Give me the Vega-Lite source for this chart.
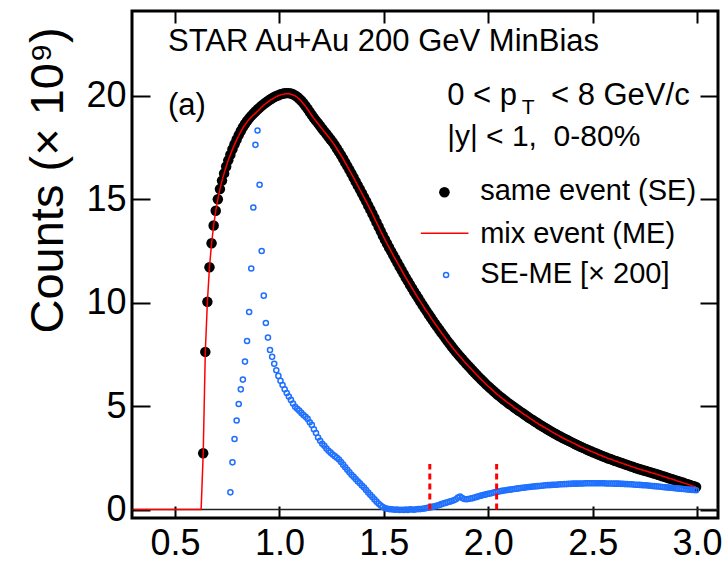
{
"$schema":"https://vega.github.io/schema/vega-lite/v6.json",
"width":586,"height":507,
"autosize":{"type":"none"},
"padding":{"left":132,"top":11,"right":9,"bottom":44},
"config":{"view":{"stroke":"black","strokeWidth":3},"font":"Liberation Sans"},
"datasets":{
"h":[
{"x":0.305,"se":null,"me":0,"d":null},{"x":0.315,"se":null,"me":0,"d":null},{"x":0.325,"se":null,"me":0,"d":null},{"x":0.335,"se":null,"me":0,"d":null},{"x":0.345,"se":null,"me":0,"d":null},{"x":0.355,"se":null,"me":0,"d":null},{"x":0.365,"se":null,"me":0,"d":null},{"x":0.375,"se":null,"me":0,"d":null},{"x":0.385,"se":null,"me":0,"d":null},{"x":0.395,"se":null,"me":0,"d":null},
{"x":0.405,"se":null,"me":0,"d":null},{"x":0.415,"se":null,"me":0,"d":null},{"x":0.425,"se":null,"me":0,"d":null},{"x":0.435,"se":null,"me":0,"d":null},{"x":0.445,"se":null,"me":0,"d":null},{"x":0.455,"se":null,"me":0,"d":null},{"x":0.465,"se":null,"me":0,"d":null},{"x":0.475,"se":null,"me":0,"d":null},{"x":0.485,"se":null,"me":0,"d":null},{"x":0.495,"se":null,"me":0,"d":null},
{"x":0.505,"se":null,"me":0,"d":null},{"x":0.515,"se":null,"me":0,"d":null},{"x":0.525,"se":null,"me":0,"d":null},{"x":0.535,"se":null,"me":0,"d":null},{"x":0.545,"se":null,"me":0,"d":null},{"x":0.555,"se":null,"me":0,"d":null},{"x":0.565,"se":null,"me":0,"d":null},{"x":0.575,"se":null,"me":0,"d":null},{"x":0.585,"se":null,"me":0,"d":null},{"x":0.595,"se":null,"me":0,"d":null},
{"x":0.605,"se":null,"me":0,"d":null},{"x":0.615,"se":null,"me":0,"d":null},{"x":0.625,"se":null,"me":0,"d":null},
{"x":0.635,"se":2.72,"me":2.72,"d":null},{"x":0.645,"se":7.62,"me":7.62,"d":null},{"x":0.655,"se":10.04,"me":10.04,"d":null},{"x":0.665,"se":11.71,"me":11.71,"d":null},{"x":0.675,"se":12.87,"me":12.87,"d":null},{"x":0.685,"se":13.73,"me":13.73,"d":null},{"x":0.695,"se":14.44,"me":14.44,"d":null},
{"x":0.705,"se":15.0,"me":15.0,"d":null},{"x":0.715,"se":15.49,"me":15.49,"d":null},{"x":0.725,"se":15.9,"me":15.9,"d":null},{"x":0.735,"se":16.25,"me":16.25,"d":null},{"x":0.745,"se":16.58,"me":16.58,"d":null},{"x":0.755,"se":16.88,"me":16.88,"d":null},
{"x":0.765,"se":17.15,"me":17.15,"d":0.83},{"x":0.775,"se":17.42,"me":17.41,"d":2.28},{"x":0.785,"se":17.66,"me":17.64,"d":3.41},{"x":0.795,"se":17.89,"me":17.87,"d":4.3},
{"x":0.805,"se":18.1,"me":18.07,"d":5.1},{"x":0.815,"se":18.3,"me":18.27,"d":5.81},{"x":0.825,"se":18.48,"me":18.45,"d":6.28},{"x":0.835,"se":18.64,"me":18.6,"d":7.15},{"x":0.845,"se":18.78,"me":18.74,"d":8.15},{"x":0.855,"se":18.91,"me":18.86,"d":9.55},{"x":0.865,"se":19.03,"me":18.97,"d":11.65},{"x":0.875,"se":19.14,"me":19.07,"d":14.6},{"x":0.885,"se":19.24,"me":19.15,"d":17.63},{"x":0.895,"se":19.34,"me":19.25,"d":18.32},
{"x":0.905,"se":19.43,"me":19.35,"d":15.7},{"x":0.915,"se":19.52,"me":19.46,"d":12.5},{"x":0.925,"se":19.6,"me":19.55,"d":10.34},{"x":0.935,"se":19.68,"me":19.63,"d":9.02},{"x":0.945,"se":19.75,"me":19.71,"d":8.31},{"x":0.955,"se":19.82,"me":19.78,"d":7.71},{"x":0.965,"se":19.88,"me":19.84,"d":7.38},{"x":0.975,"se":19.94,"me":19.9,"d":7.05},{"x":0.985,"se":19.99,"me":19.96,"d":6.73},{"x":0.995,"se":20.03,"me":20.0,"d":6.46},
{"x":1.005,"se":20.07,"me":20.04,"d":6.22},{"x":1.015,"se":20.1,"me":20.07,"d":6.02},{"x":1.025,"se":20.12,"me":20.09,"d":5.81},{"x":1.035,"se":20.13,"me":20.1,"d":5.63},{"x":1.045,"se":20.13,"me":20.1,"d":5.46},{"x":1.055,"se":20.11,"me":20.08,"d":5.3},{"x":1.065,"se":20.07,"me":20.04,"d":5.12},{"x":1.075,"se":20.02,"me":20.0,"d":4.97},{"x":1.085,"se":19.95,"me":19.93,"d":4.87},{"x":1.095,"se":19.86,"me":19.84,"d":4.78},
{"x":1.105,"se":19.76,"me":19.74,"d":4.67},{"x":1.115,"se":19.64,"me":19.62,"d":4.57},{"x":1.125,"se":19.51,"me":19.49,"d":4.48},{"x":1.135,"se":19.37,"me":19.35,"d":4.38},{"x":1.145,"se":19.22,"me":19.2,"d":4.22},{"x":1.155,"se":19.07,"me":19.05,"d":4.09},{"x":1.165,"se":18.93,"me":18.91,"d":3.88},{"x":1.175,"se":18.8,"me":18.78,"d":3.7},{"x":1.185,"se":18.67,"me":18.65,"d":3.48},{"x":1.195,"se":18.54,"me":18.52,"d":3.32},
{"x":1.205,"se":18.41,"me":18.39,"d":3.18},{"x":1.215,"se":18.28,"me":18.26,"d":3.08},{"x":1.225,"se":18.15,"me":18.14,"d":2.95},{"x":1.235,"se":18.02,"me":18.01,"d":2.84},{"x":1.245,"se":17.89,"me":17.88,"d":2.75},{"x":1.255,"se":17.76,"me":17.75,"d":2.66},{"x":1.265,"se":17.61,"me":17.6,"d":2.58},{"x":1.275,"se":17.45,"me":17.44,"d":2.5},{"x":1.285,"se":17.29,"me":17.28,"d":2.42},{"x":1.295,"se":17.13,"me":17.12,"d":2.3},
{"x":1.305,"se":16.96,"me":16.95,"d":2.17},{"x":1.315,"se":16.78,"me":16.77,"d":2.04},{"x":1.325,"se":16.6,"me":16.59,"d":1.92},{"x":1.335,"se":16.42,"me":16.41,"d":1.8},{"x":1.345,"se":16.24,"me":16.23,"d":1.68},{"x":1.355,"se":16.05,"me":16.04,"d":1.58},{"x":1.365,"se":15.86,"me":15.85,"d":1.47},{"x":1.375,"se":15.67,"me":15.66,"d":1.37},{"x":1.385,"se":15.48,"me":15.47,"d":1.27},{"x":1.395,"se":15.29,"me":15.28,"d":1.16},
{"x":1.405,"se":15.1,"me":15.09,"d":1.06},{"x":1.415,"se":14.9,"me":14.9,"d":0.94},{"x":1.425,"se":14.7,"me":14.7,"d":0.82},{"x":1.435,"se":14.5,"me":14.5,"d":0.71},{"x":1.445,"se":14.3,"me":14.3,"d":0.6},{"x":1.455,"se":14.09,"me":14.09,"d":0.49},{"x":1.465,"se":13.88,"me":13.88,"d":0.38},{"x":1.475,"se":13.67,"me":13.67,"d":0.28},{"x":1.485,"se":13.46,"me":13.46,"d":0.19},{"x":1.495,"se":13.25,"me":13.25,"d":0.12},
{"x":1.505,"se":13.05,"me":13.05,"d":0.07},{"x":1.515,"se":12.86,"me":12.86,"d":0.04},{"x":1.525,"se":12.67,"me":12.67,"d":0.02},{"x":1.535,"se":12.48,"me":12.48,"d":0.01},{"x":1.545,"se":12.29,"me":12.29,"d":0.0},{"x":1.555,"se":12.11,"me":12.11,"d":-0.01},{"x":1.565,"se":11.93,"me":11.93,"d":0.0},{"x":1.575,"se":11.75,"me":11.75,"d":-0.02},{"x":1.585,"se":11.57,"me":11.57,"d":-0.01},{"x":1.595,"se":11.39,"me":11.39,"d":-0.02},
{"x":1.605,"se":11.21,"me":11.21,"d":0.0},{"x":1.615,"se":11.04,"me":11.04,"d":-0.02},{"x":1.625,"se":10.87,"me":10.87,"d":0.01},{"x":1.635,"se":10.7,"me":10.7,"d":0.0},{"x":1.645,"se":10.53,"me":10.53,"d":-0.01},{"x":1.655,"se":10.37,"me":10.37,"d":0.01},{"x":1.665,"se":10.21,"me":10.21,"d":0.02},{"x":1.675,"se":10.05,"me":10.05,"d":0.02},{"x":1.685,"se":9.89,"me":9.89,"d":0.04},{"x":1.695,"se":9.73,"me":9.73,"d":0.05},
{"x":1.705,"se":9.58,"me":9.58,"d":0.07},{"x":1.715,"se":9.43,"me":9.43,"d":0.09},{"x":1.725,"se":9.28,"me":9.28,"d":0.11},{"x":1.735,"se":9.13,"me":9.13,"d":0.14},{"x":1.745,"se":8.98,"me":8.98,"d":0.16},{"x":1.755,"se":8.84,"me":8.84,"d":0.19},{"x":1.765,"se":8.7,"me":8.7,"d":0.22},{"x":1.775,"se":8.56,"me":8.56,"d":0.26},{"x":1.785,"se":8.42,"me":8.42,"d":0.29},{"x":1.795,"se":8.28,"me":8.28,"d":0.32},
{"x":1.805,"se":8.14,"me":8.14,"d":0.35},{"x":1.815,"se":8.01,"me":8.01,"d":0.38},{"x":1.825,"se":7.88,"me":7.88,"d":0.41},{"x":1.835,"se":7.75,"me":7.75,"d":0.45},{"x":1.845,"se":7.63,"me":7.63,"d":0.5},{"x":1.855,"se":7.51,"me":7.51,"d":0.58},{"x":1.865,"se":7.39,"me":7.39,"d":0.63},{"x":1.875,"se":7.28,"me":7.28,"d":0.56},{"x":1.885,"se":7.16,"me":7.16,"d":0.51},{"x":1.895,"se":7.05,"me":7.05,"d":0.5},
{"x":1.905,"se":6.94,"me":6.94,"d":0.51},{"x":1.915,"se":6.83,"me":6.83,"d":0.53},{"x":1.925,"se":6.72,"me":6.72,"d":0.55},{"x":1.935,"se":6.61,"me":6.61,"d":0.58},{"x":1.945,"se":6.5,"me":6.5,"d":0.61},{"x":1.955,"se":6.4,"me":6.4,"d":0.64},{"x":1.965,"se":6.3,"me":6.3,"d":0.67},{"x":1.975,"se":6.2,"me":6.2,"d":0.7},{"x":1.985,"se":6.1,"me":6.1,"d":0.72},{"x":1.995,"se":6.0,"me":6.0,"d":0.75},
{"x":2.005,"se":5.91,"me":5.91,"d":0.77},{"x":2.015,"se":5.82,"me":5.82,"d":0.79},{"x":2.025,"se":5.73,"me":5.73,"d":0.82},{"x":2.035,"se":5.64,"me":5.64,"d":0.84},{"x":2.045,"se":5.55,"me":5.55,"d":0.86},{"x":2.055,"se":5.47,"me":5.47,"d":0.88},{"x":2.065,"se":5.39,"me":5.39,"d":0.9},{"x":2.075,"se":5.31,"me":5.31,"d":0.92},{"x":2.085,"se":5.23,"me":5.23,"d":0.93},{"x":2.095,"se":5.15,"me":5.15,"d":0.95},
{"x":2.105,"se":5.08,"me":5.08,"d":0.96},{"x":2.115,"se":5.01,"me":5.01,"d":0.98},{"x":2.125,"se":4.93,"me":4.93,"d":0.99},{"x":2.135,"se":4.86,"me":4.86,"d":1.01},{"x":2.145,"se":4.79,"me":4.79,"d":1.02},{"x":2.155,"se":4.72,"me":4.72,"d":1.04},{"x":2.165,"se":4.65,"me":4.65,"d":1.05},{"x":2.175,"se":4.58,"me":4.58,"d":1.06},{"x":2.185,"se":4.51,"me":4.51,"d":1.08},{"x":2.195,"se":4.44,"me":4.44,"d":1.09},
{"x":2.205,"se":4.37,"me":4.37,"d":1.1},{"x":2.215,"se":4.31,"me":4.31,"d":1.11},{"x":2.225,"se":4.24,"me":4.24,"d":1.12},{"x":2.235,"se":4.18,"me":4.18,"d":1.13},{"x":2.245,"se":4.11,"me":4.11,"d":1.14},{"x":2.255,"se":4.05,"me":4.05,"d":1.15},{"x":2.265,"se":3.99,"me":3.99,"d":1.16},{"x":2.275,"se":3.93,"me":3.93,"d":1.17},{"x":2.285,"se":3.87,"me":3.87,"d":1.18},{"x":2.295,"se":3.81,"me":3.81,"d":1.18},
{"x":2.305,"se":3.75,"me":3.75,"d":1.19},{"x":2.315,"se":3.69,"me":3.69,"d":1.2},{"x":2.325,"se":3.64,"me":3.64,"d":1.2},{"x":2.335,"se":3.58,"me":3.58,"d":1.21},{"x":2.345,"se":3.53,"me":3.53,"d":1.22},{"x":2.355,"se":3.47,"me":3.47,"d":1.22},{"x":2.365,"se":3.42,"me":3.42,"d":1.23},{"x":2.375,"se":3.37,"me":3.37,"d":1.23},{"x":2.385,"se":3.32,"me":3.32,"d":1.24},{"x":2.395,"se":3.27,"me":3.27,"d":1.24},
{"x":2.405,"se":3.22,"me":3.22,"d":1.25},{"x":2.415,"se":3.17,"me":3.17,"d":1.25},{"x":2.425,"se":3.12,"me":3.12,"d":1.25},{"x":2.435,"se":3.07,"me":3.07,"d":1.26},{"x":2.445,"se":3.02,"me":3.02,"d":1.26},{"x":2.455,"se":2.98,"me":2.98,"d":1.26},{"x":2.465,"se":2.93,"me":2.93,"d":1.27},{"x":2.475,"se":2.89,"me":2.89,"d":1.27},{"x":2.485,"se":2.84,"me":2.84,"d":1.27},{"x":2.495,"se":2.8,"me":2.8,"d":1.27},
{"x":2.505,"se":2.76,"me":2.76,"d":1.27},{"x":2.515,"se":2.72,"me":2.72,"d":1.27},{"x":2.525,"se":2.67,"me":2.67,"d":1.27},{"x":2.535,"se":2.63,"me":2.63,"d":1.27},{"x":2.545,"se":2.59,"me":2.59,"d":1.27},{"x":2.555,"se":2.55,"me":2.55,"d":1.27},{"x":2.565,"se":2.51,"me":2.51,"d":1.26},{"x":2.575,"se":2.47,"me":2.47,"d":1.26},{"x":2.585,"se":2.44,"me":2.44,"d":1.26},{"x":2.595,"se":2.4,"me":2.4,"d":1.26},
{"x":2.605,"se":2.36,"me":2.36,"d":1.25},{"x":2.615,"se":2.33,"me":2.33,"d":1.25},{"x":2.625,"se":2.29,"me":2.29,"d":1.25},{"x":2.635,"se":2.26,"me":2.26,"d":1.24},{"x":2.645,"se":2.22,"me":2.22,"d":1.24},{"x":2.655,"se":2.19,"me":2.19,"d":1.23},{"x":2.665,"se":2.15,"me":2.15,"d":1.23},{"x":2.675,"se":2.12,"me":2.12,"d":1.22},{"x":2.685,"se":2.08,"me":2.08,"d":1.22},{"x":2.695,"se":2.05,"me":2.05,"d":1.21},
{"x":2.705,"se":2.01,"me":2.01,"d":1.2},{"x":2.715,"se":1.98,"me":1.98,"d":1.2},{"x":2.725,"se":1.95,"me":1.95,"d":1.19},{"x":2.735,"se":1.92,"me":1.92,"d":1.18},{"x":2.745,"se":1.89,"me":1.89,"d":1.17},{"x":2.755,"se":1.86,"me":1.86,"d":1.17},{"x":2.765,"se":1.83,"me":1.83,"d":1.16},{"x":2.775,"se":1.8,"me":1.8,"d":1.15},{"x":2.785,"se":1.77,"me":1.77,"d":1.14},{"x":2.795,"se":1.74,"me":1.74,"d":1.13},
{"x":2.805,"se":1.71,"me":1.71,"d":1.12},{"x":2.815,"se":1.68,"me":1.68,"d":1.11},{"x":2.825,"se":1.64,"me":1.64,"d":1.1},{"x":2.835,"se":1.61,"me":1.61,"d":1.09},{"x":2.845,"se":1.58,"me":1.58,"d":1.08},{"x":2.855,"se":1.55,"me":1.55,"d":1.07},{"x":2.865,"se":1.51,"me":1.51,"d":1.06},{"x":2.875,"se":1.48,"me":1.48,"d":1.05},{"x":2.885,"se":1.45,"me":1.45,"d":1.04},{"x":2.895,"se":1.42,"me":1.42,"d":1.03},
{"x":2.905,"se":1.38,"me":1.38,"d":1.02},{"x":2.915,"se":1.35,"me":1.35,"d":1.01},{"x":2.925,"se":1.32,"me":1.32,"d":1.0},{"x":2.935,"se":1.29,"me":1.29,"d":0.99},{"x":2.945,"se":1.25,"me":1.25,"d":0.98},{"x":2.955,"se":1.22,"me":1.22,"d":0.97},{"x":2.965,"se":1.19,"me":1.19,"d":0.96},{"x":2.975,"se":1.15,"me":1.15,"d":0.95},{"x":2.985,"se":1.12,"me":1.12,"d":0.94},{"x":2.995,"se":1.09,"me":1.09,"d":0.93}
]
},
"layer":[
{"data":{"values":[{"x":0.294,"x2":3.1,"y":0}]},
 "mark":{"type":"rule","color":"#222222","strokeWidth":1.5},
 "encoding":{
  "x":{"field":"x","type":"quantitative","scale":{"domain":[0.294,3.1],"nice":false,"zero":false},
       "axis":{"orient":"top","values":[0.5,1,1.5,2,2.5,3],"offset":-12,"ticks":true,"tickSize":12,"tickWidth":2,"tickColor":"#000000","labels":false,"domain":false,"grid":false,"title":null}},
  "x2":{"field":"x2"},
  "y":{"field":"y","type":"quantitative","scale":{"domain":[-0.41,24.1],"nice":false,"zero":false},
       "axis":{"orient":"right","values":[0,5,10,15,20],"offset":-18,"ticks":true,"tickSize":18,"tickWidth":2,"tickColor":"#000000","labels":false,"domain":false,"grid":false,"title":null}}}},
{"data":{"name":"h"},
 "mark":{"type":"point","filled":true,"color":"black","size":110,"opacity":1},
 "encoding":{
  "x":{"field":"x","type":"quantitative","scale":{"domain":[0.294,3.1],"nice":false,"zero":false},
       "axis":{"orient":"bottom","values":[0.5,1,1.5,2,2.5,3],"format":".1f","offset":-12,"ticks":true,"tickSize":12,"tickWidth":2,"tickColor":"#000000","domain":false,"grid":false,"labelFont":"Liberation Sans","labelFontSize":36,"labelColor":"black","labelPadding":8,"labelFlush":false,"labelOverlap":false,"title":null}},
  "y":{"field":"se","type":"quantitative","scale":{"domain":[-0.41,24.1],"nice":false,"zero":false},
       "axis":{"orient":"left","values":[0,5,10,15,20],"format":"d","offset":-18,"ticks":true,"tickSize":18,"tickWidth":2,"tickColor":"#000000","domain":false,"grid":false,"labelFont":"Liberation Sans","labelFontSize":36,"labelColor":"black","labelPadding":6,"labelFlush":false,"labelOverlap":false,
               "title":"Counts (× 10⁹)","titleFont":"Liberation Sans","titleFontSize":47,"titleFontWeight":"normal","titleColor":"black","titleAngle":270,"titleAlign":"left","titleBaseline":"alphabetic","titleX":-88,"titleY":322}}}},
{"data":{"name":"h"},
 "mark":{"type":"line","color":"#ff0000","strokeWidth":1.5},
 "encoding":{
  "x":{"field":"x","type":"quantitative","scale":{"domain":[0.294,3.1],"nice":false,"zero":false},"axis":null},
  "y":{"field":"me","type":"quantitative","scale":{"domain":[-0.41,24.1],"nice":false,"zero":false},"axis":null}}},
{"data":{"name":"h"},
 "mark":{"type":"point","filled":false,"color":"#1f70ff","strokeWidth":1.5,"size":26,"opacity":1},
 "encoding":{
  "x":{"field":"x","type":"quantitative","scale":{"domain":[0.294,3.1],"nice":false,"zero":false},"axis":null},
  "y":{"field":"d","type":"quantitative","scale":{"domain":[-0.41,24.1],"nice":false,"zero":false},"axis":null}}},
{"data":{"values":[{"x":1.72,"y":0,"y2":2.2},{"x":2.04,"y":0,"y2":2.2}]},
 "mark":{"type":"rule","color":"#ff0000","strokeWidth":3,"strokeDash":[6,4]},
 "encoding":{
  "x":{"field":"x","type":"quantitative","scale":{"domain":[0.294,3.1],"nice":false,"zero":false},"axis":null},
  "y":{"field":"y","type":"quantitative","scale":{"domain":[-0.41,24.1],"nice":false,"zero":false},"axis":null},
  "y2":{"field":"y2"}}},
{"data":{"values":[{"x":0.4665,"y":22.18,"t":"STAR Au+Au 200 GeV MinBias"},{"x":0.4665,"y":19.09,"t":"(a)"},{"x":1.803,"y":19.56,"t":"0 < p"},{"x":2.3,"y":19.56,"t":"< 8 GeV/c"}]},
 "mark":{"type":"text","font":"Liberation Sans","fontSize":31,"align":"left","baseline":"alphabetic","color":"black"},
 "encoding":{
  "x":{"field":"x","type":"quantitative","scale":{"domain":[0.294,3.1],"nice":false,"zero":false},"axis":null},
  "y":{"field":"y","type":"quantitative","scale":{"domain":[-0.41,24.1],"nice":false,"zero":false},"axis":null},
  "text":{"field":"t"}}},
{"data":{"values":[{"x":2.16,"y":19.13,"t":"T"}]},
 "mark":{"type":"text","font":"Liberation Sans","fontSize":21,"align":"left","baseline":"alphabetic","color":"black"},
 "encoding":{
  "x":{"field":"x","type":"quantitative","scale":{"domain":[0.294,3.1],"nice":false,"zero":false},"axis":null},
  "y":{"field":"y","type":"quantitative","scale":{"domain":[-0.41,24.1],"nice":false,"zero":false},"axis":null},
  "text":{"field":"t"}}},
{"data":{"values":[{"x":1.803,"y":17.58,"t":"|y| < 1,\u00a0 0-80%"}]},
 "mark":{"type":"text","font":"Liberation Sans","fontSize":30,"align":"left","baseline":"alphabetic","color":"black"},
 "encoding":{
  "x":{"field":"x","type":"quantitative","scale":{"domain":[0.294,3.1],"nice":false,"zero":false},"axis":null},
  "y":{"field":"y","type":"quantitative","scale":{"domain":[-0.41,24.1],"nice":false,"zero":false},"axis":null},
  "text":{"field":"t"}}},
{"data":{"values":[{"x":1.961,"y":14.97,"t":"same event (SE)"},{"x":1.961,"y":12.89,"t":"mix event (ME)"},{"x":1.961,"y":10.96,"t":"SE-ME [× 200]"}]},
 "mark":{"type":"text","font":"Liberation Sans","fontSize":29,"align":"left","baseline":"alphabetic","color":"black"},
 "encoding":{
  "x":{"field":"x","type":"quantitative","scale":{"domain":[0.294,3.1],"nice":false,"zero":false},"axis":null},
  "y":{"field":"y","type":"quantitative","scale":{"domain":[-0.41,24.1],"nice":false,"zero":false},"axis":null},
  "text":{"field":"t"}}},
{"data":{"values":[{"x":1.79,"y":15.34}]},
 "mark":{"type":"point","filled":true,"color":"black","size":113,"opacity":1},
 "encoding":{
  "x":{"field":"x","type":"quantitative","scale":{"domain":[0.294,3.1],"nice":false,"zero":false},"axis":null},
  "y":{"field":"y","type":"quantitative","scale":{"domain":[-0.41,24.1],"nice":false,"zero":false},"axis":null}}},
{"data":{"values":[{"x":1.677,"x2":1.905,"y":13.36}]},
 "mark":{"type":"rule","color":"#ff0000","strokeWidth":1.5},
 "encoding":{
  "x":{"field":"x","type":"quantitative","scale":{"domain":[0.294,3.1],"nice":false,"zero":false},"axis":null},
  "x2":{"field":"x2"},
  "y":{"field":"y","type":"quantitative","scale":{"domain":[-0.41,24.1],"nice":false,"zero":false},"axis":null}}},
{"data":{"values":[{"x":1.798,"y":11.34}]},
 "mark":{"type":"point","filled":false,"color":"#1f70ff","strokeWidth":1.5,"size":26,"opacity":1},
 "encoding":{
  "x":{"field":"x","type":"quantitative","scale":{"domain":[0.294,3.1],"nice":false,"zero":false},"axis":null},
  "y":{"field":"y","type":"quantitative","scale":{"domain":[-0.41,24.1],"nice":false,"zero":false},"axis":null}}}
],
"resolve":{"axis":{"x":"independent","y":"independent"}}
}
